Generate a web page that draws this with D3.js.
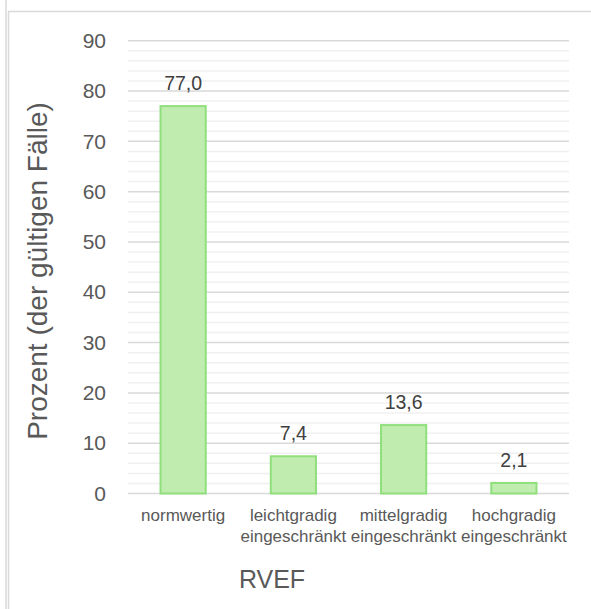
<!DOCTYPE html>
<html>
<head>
<meta charset="utf-8">
<script src="https://cdn.jsdelivr.net/npm/d3@7"></script>
<style>
  html, body { margin: 0; padding: 0; background: #fff; }
  svg { display: block; font-family: Arial, "Liberation Sans", sans-serif; }
</style>
</head>
<body>
<svg id="chart" width="591" height="609"></svg>
<script>
// RVEF distribution (percent of valid cases)
const categories = [
  ["normwertig"],
  ["leichtgradig", "eingeschränkt"],
  ["mittelgradig", "eingeschränkt"],
  ["hochgradig", "eingeschränkt"]
];
const values = [77.0, 7.4, 13.6, 2.1];
const valueLabels = ["77,0", "7,4", "13,6", "2,1"];
const majorTicks = [0, 10, 20, 30, 40, 50, 60, 70, 80, 90];
const minorTicks = d3.range(0, 91, 2);
const yTitle = "Prozent (der gültigen Fälle)";
const xTitle = "RVEF";

const svg = d3.select("#chart");
const plot = { left: 128, right: 569, top: 40.7, bottom: 493.5 };

const x = d3.scaleBand()
  .domain(d3.range(categories.length))
  .range([plot.left, plot.right])
  .paddingInner(0.59)
  .paddingOuter(0.295);

const y = d3.scaleLinear().domain([0, 90]).range([plot.bottom, plot.top]);

// outer frame
svg.append("line").attr("x1", 8).attr("x2", 591).attr("y1", 11.5).attr("y2", 11.5)
  .attr("stroke", "#d9d9d9").attr("stroke-width", 1.5);
svg.append("line").attr("x1", 6).attr("x2", 6).attr("y1", 0).attr("y2", 609)
  .attr("stroke", "#d9d9d9").attr("stroke-width", 1.5);
svg.append("line").attr("x1", 8.5).attr("x2", 8.5).attr("y1", 11).attr("y2", 609)
  .attr("stroke", "#d9d9d9").attr("stroke-width", 1.5);

// minor gridlines
svg.append("g").selectAll("line")
  .data(minorTicks.filter(t => t % 10 !== 0))
  .join("line")
  .attr("x1", plot.left).attr("x2", plot.right)
  .attr("y1", d => y(d)).attr("y2", d => y(d))
  .attr("stroke", "#f0f0f0").attr("stroke-width", 1.5);

// major gridlines
svg.append("g").selectAll("line")
  .data(majorTicks)
  .join("line")
  .attr("x1", plot.left).attr("x2", plot.right)
  .attr("y1", d => y(d)).attr("y2", d => y(d))
  .attr("stroke", "#d9d9d9").attr("stroke-width", 1.5);

// y axis labels
const yAxis = d3.axisLeft(y).tickValues(majorTicks).tickSize(0).tickPadding(0);
const yg = svg.append("g").attr("transform", `translate(106,0)`).call(yAxis);
yg.select(".domain").remove();
yg.selectAll("text").attr("fill", "#595959").attr("font-size", 21)
  .attr("font-family", "Arial, 'Liberation Sans', sans-serif");

// bars
svg.append("g").selectAll("rect")
  .data(values)
  .join("rect")
  .attr("x", (d, i) => x(i))
  .attr("y", d => y(d))
  .attr("width", x.bandwidth())
  .attr("height", d => y(0) - y(d))
  .attr("fill", "#c1ecb0")
  .attr("stroke", "#8fe07c")
  .attr("stroke-width", 2);

// value labels
svg.append("g").selectAll("text")
  .data(values)
  .join("text")
  .attr("x", (d, i) => x(i) + x.bandwidth() / 2)
  .attr("y", d => y(d) - 16)
  .attr("text-anchor", "middle")
  .attr("font-size", 19.5)
  .attr("fill", "#404040")
  .text((d, i) => valueLabels[i]);

// category labels
const cat = svg.append("g").selectAll("text")
  .data(categories)
  .join("text")
  .attr("text-anchor", "middle")
  .attr("font-size", 17)
  .attr("fill", "#595959");
cat.each(function(lines, i) {
  const t = d3.select(this);
  lines.forEach((s, k) => {
    t.append("tspan")
      .attr("x", x(i) + x.bandwidth() / 2)
      .attr("y", 521 + k * 20.5)
      .text(s);
  });
});

// axis titles
svg.append("text")
  .attr("x", 272).attr("y", 588)
  .attr("text-anchor", "middle")
  .attr("font-size", 25)
  .attr("fill", "#595959")
  .text(xTitle);

svg.append("text")
  .attr("transform", `translate(47,271) rotate(-90)`)
  .attr("text-anchor", "middle")
  .attr("font-size", 28)
  .attr("fill", "#595959")
  .text(yTitle);
</script>
</body>
</html>
